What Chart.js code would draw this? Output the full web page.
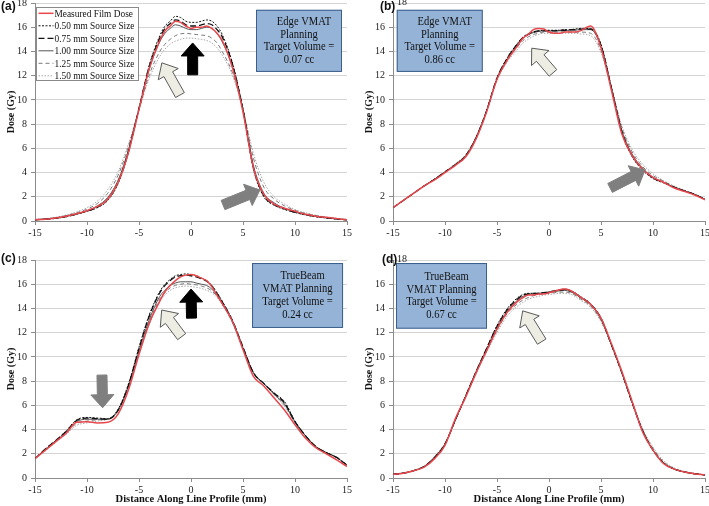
<!DOCTYPE html>
<html>
<head>
<meta charset="utf-8">
<script src="https://cdn.jsdelivr.net/npm/chart.js@4.4.1/dist/chart.umd.min.js"></script>
<style>
  html, body { margin: 0; padding: 0; background: #fff; }
  #wrap { position: relative; width: 709px; height: 506px; overflow: hidden; }
  canvas { position: absolute; }
  .tag { position: absolute; font: bold 12px "Liberation Sans", Arial, sans-serif; color: #111; }
</style>
</head>
<body>
<div id="wrap">
  <canvas id="cA" width="355" height="250" style="left:0;top:0"></canvas>
  <canvas id="cB" width="354" height="250" style="left:355px;top:0"></canvas>
  <canvas id="cC" width="355" height="256" style="left:0;top:250px"></canvas>
  <canvas id="cD" width="354" height="256" style="left:355px;top:250px"></canvas>
  <div class="tag" style="left:1px;top:-1px">(a)</div>
  <div class="tag" style="left:380px;top:-1px">(b)</div>
  <div class="tag" style="left:1px;top:251px">(c)</div>
  <div class="tag" style="left:382px;top:252px">(d)</div>
</div>
<script>
// distance along line profile (mm), shared by all panels
const X = [-15,-14,-13,-12,-11,-10,-9,-8,-7,-6,-5,-4,-3,-2.5,-2,-1.5,-1,-0.5,0,0.5,1,1.5,2,2.5,3,4,5,6,7,8,9,10,11,12,13,14,15];

const seriesNames = ["Measured Film Dose","0.50 mm Source Size","0.75 mm Source Size",
                     "1.00 mm Source Size","1.25 mm Source Size","1.50 mm Source Size"];

// (a) Edge VMAT, 0.07 cc
const measA = [0.1,0.15,0.25,0.4,0.6,0.85,1.2,1.8,3.2,5.7,9.2,12.6, 14.9,15.7,16.1,16.5,16.4,16.1,15.9,16.0,16.0,16.1,15.9,15.5,14.9, 12.6,9.0,4.4,2.2,1.4,1.05,0.8,0.55,0.4,0.3,0.2,0.1];
const s050A = [0.1,0.15,0.22,0.35,0.55,0.8,1.1,1.7,3.1,5.7,9.3,12.9, 15.3,16.1,16.5,16.9,16.8,16.5,16.4,16.4,16.5,16.6,16.5,16.1,15.4, 13.0,9.2,4.3,2.0,1.3,0.95,0.7,0.5,0.35,0.25,0.15,0.1];
const s075A = [0.1,0.15,0.23,0.37,0.57,0.82,1.15,1.8,3.2,5.8,9.3,12.8, 15.1,15.9,16.3,16.6,16.5,16.2,16.1,16.1,16.2,16.3,16.2,15.8,15.2, 12.9,9.2,4.4,2.1,1.35,1.0,0.72,0.52,0.37,0.27,0.17,0.1];
const s100A = [0.1,0.16,0.25,0.4,0.6,0.85,1.25,1.95,3.4,5.9,9.3,12.6, 14.8,15.5,15.9,16.2,16.1,15.9,15.8,15.8,15.9,16.0,15.9,15.5,14.8, 12.7,9.2,4.6,2.3,1.5,1.05,0.75,0.55,0.4,0.28,0.18,0.1];
const s125A = [0.12,0.18,0.28,0.45,0.68,0.98,1.45,2.3,3.8,6.2,9.2,12.1, 14.0,14.6,15.0,15.3,15.45,15.5,15.45,15.4,15.35,15.3,15.1,14.7,14.0, 12.2,9.2,5.2,2.8,1.8,1.25,0.88,0.62,0.45,0.3,0.2,0.12];
const s150A = [0.13,0.2,0.3,0.5,0.75,1.1,1.65,2.6,4.1,6.4,9.2,11.8, 13.6,14.2,14.6,14.85,15.0,15.1,15.1,15.05,15.0,14.9,14.7,14.3,13.7, 12.0,9.2,5.6,3.2,2.0,1.4,0.95,0.68,0.48,0.32,0.22,0.13];

// (b) Edge VMAT, 0.86 cc
const measB = [1.1,1.7,2.3,2.9,3.4,4.0,4.6,5.3,6.8,9.0,11.7,13.3, 14.5,15.1,15.4,15.8,15.9,15.85,15.6,15.5,15.5,15.6,15.6,15.6,15.7, 16.1,14.3,10.8,7.2,5.4,4.3,3.6,3.2,2.75,2.45,2.15,1.75];
const s050B = [1.1,1.7,2.3,2.9,3.45,4.05,4.65,5.4,6.9,9.1,11.8,13.5, 14.7,15.2,15.45,15.6,15.7,15.75,15.75,15.75,15.75,15.8,15.8,15.85,15.9, 15.9,14.6,11.0,7.3,5.3,4.2,3.5,3.15,2.8,2.5,2.2,1.8];
const s075B = [1.1,1.7,2.3,2.9,3.45,4.05,4.65,5.4,6.9,9.1,11.8,13.45, 14.65,15.15,15.4,15.6,15.7,15.7,15.7,15.7,15.75,15.75,15.8,15.8,15.85, 15.85,14.5,11.0,7.4,5.4,4.3,3.55,3.2,2.8,2.5,2.2,1.8];
const s100B = [1.1,1.7,2.3,2.9,3.45,4.05,4.65,5.4,6.9,9.1,11.75,13.4, 14.6,15.1,15.4,15.55,15.65,15.7,15.7,15.7,15.7,15.7,15.75,15.75,15.8, 15.8,14.4,11.0,7.5,5.5,4.35,3.6,3.2,2.8,2.5,2.2,1.8];
const s125B = [1.1,1.7,2.3,2.9,3.45,4.05,4.7,5.45,6.95,9.1,11.7,13.3, 14.4,14.9,15.2,15.4,15.5,15.6,15.6,15.6,15.6,15.6,15.6,15.6,15.6, 15.5,14.1,11.0,7.7,5.7,4.5,3.75,3.3,2.85,2.5,2.2,1.8];
const s150B = [1.1,1.7,2.3,2.9,3.45,4.1,4.75,5.5,7.0,9.1,11.6,13.15, 14.2,14.7,15.0,15.25,15.4,15.5,15.5,15.5,15.5,15.5,15.5,15.5,15.45, 15.3,13.9,11.0,7.9,5.9,4.7,3.9,3.35,2.9,2.55,2.2,1.8];

// (c) TrueBeam VMAT, 0.24 cc
const measC = [1.6,2.3,3.0,3.7,4.6,4.65,4.55,4.6,5.3,7.3,10.2,12.8, 14.6,15.4,15.9,16.3,16.6,16.75,16.8,16.7,16.5,16.3,15.8,15.1,14.4, 12.9,10.6,8.4,7.6,6.6,5.6,4.4,3.3,2.5,2.0,1.5,0.95];
const s050C = [1.6,2.4,3.1,3.9,4.8,5.0,4.95,4.9,5.7,7.8,10.8,13.5, 15.4,16.0,16.4,16.7,16.8,16.85,16.8,16.7,16.5,16.3,15.9,15.3,14.6, 13.0,10.8,8.7,7.8,7.0,6.3,4.7,3.5,2.6,2.1,1.7,1.1];
const s075C = [1.6,2.4,3.1,3.85,4.75,4.95,4.9,4.85,5.6,7.7,10.7,13.4, 15.3,15.9,16.3,16.6,16.7,16.75,16.7,16.6,16.45,16.25,15.85,15.25,14.55, 12.95,10.8,8.7,7.8,7.0,6.2,4.65,3.5,2.6,2.1,1.7,1.05];
const s100C = [1.6,2.35,3.05,3.8,4.65,4.85,4.85,4.85,5.6,7.6,10.5,13.1, 15.0,15.5,15.9,16.1,16.2,16.2,16.2,16.1,16.0,15.9,15.6,15.1,14.5, 12.9,10.7,8.7,7.8,6.9,6.1,4.6,3.5,2.6,2.1,1.7,1.05];
const s125C = [1.6,2.3,3.0,3.7,4.5,4.7,4.8,4.85,5.6,7.6,10.4,12.9, 14.8,15.3,15.7,15.9,16.0,16.05,16.0,15.95,15.85,15.7,15.45,15.0,14.4, 12.8,10.7,8.7,7.8,6.9,6.0,4.6,3.5,2.6,2.1,1.7,1.05];
const s150C = [1.6,2.25,2.95,3.6,4.35,4.55,4.7,4.85,5.6,7.6,10.3,12.7, 14.6,15.1,15.5,15.7,15.8,15.85,15.8,15.75,15.65,15.5,15.3,14.9,14.3, 12.8,10.7,8.7,7.8,6.9,5.9,4.6,3.5,2.6,2.1,1.7,1.05];

// (d) TrueBeam VMAT, 0.67 cc
const measD = [0.3,0.4,0.6,0.9,1.6,2.7,4.9,6.7,8.7,10.5,12.3,13.7, 14.6,14.9,15.1,15.1,15.2,15.2,15.3,15.4,15.55,15.6,15.5,15.25,14.95, 14.35,13.2,11.1,8.8,6.3,3.8,2.3,1.2,0.75,0.5,0.35,0.25];
const s050D = [0.3,0.4,0.6,0.95,1.7,2.8,4.8,6.8,8.8,10.7,12.6,14.0, 14.9,15.15,15.25,15.25,15.25,15.3,15.35,15.45,15.55,15.6,15.5,15.3,15.0, 14.4,13.2,11.0,8.7,6.2,3.9,2.3,1.25,0.75,0.5,0.35,0.25];
const s075D = [0.3,0.4,0.6,0.95,1.7,2.8,4.8,6.8,8.8,10.7,12.5,13.9, 14.8,15.1,15.2,15.25,15.25,15.3,15.35,15.45,15.5,15.55,15.45,15.25,14.95, 14.35,13.2,11.0,8.7,6.2,3.9,2.3,1.25,0.75,0.5,0.35,0.25];
const s100D = [0.3,0.4,0.6,0.95,1.7,2.8,4.8,6.8,8.8,10.6,12.4,13.8, 14.7,15.0,15.15,15.2,15.25,15.3,15.35,15.4,15.45,15.5,15.4,15.2,14.9, 14.3,13.1,11.0,8.7,6.2,3.9,2.3,1.25,0.75,0.5,0.35,0.25];
const s125D = [0.32,0.42,0.62,0.98,1.75,2.85,4.8,6.75,8.7,10.5,12.2,13.6, 14.4,14.7,14.9,15.05,15.15,15.2,15.25,15.3,15.35,15.35,15.3,15.1,14.8, 14.2,13.0,11.0,8.8,6.3,4.0,2.45,1.35,0.8,0.52,0.36,0.26];
const s150D = [0.33,0.44,0.65,1.0,1.8,2.9,4.8,6.7,8.6,10.4,12.0,13.4, 14.2,14.5,14.75,14.9,15.0,15.1,15.15,15.2,15.25,15.25,15.2,15.0,14.7, 14.1,12.9,11.0,8.9,6.4,4.1,2.55,1.45,0.85,0.55,0.38,0.27];

// line styles, one per series
const lineColors = ['#e8474c', '#111', '#111', '#555', '#7a7a7a', '#a8a8a8'];
const lineDashes = [[], [2, 1.5], [6, 3], [], [4, 3], [1.5, 1.5]];
const lineWidths = [1.5, 1, 1.3, 1, 1, 1];

Chart.defaults.font.family = '"Liberation Serif", "Times New Roman", serif';
Chart.defaults.color = '#222';

function drawArrow(ctx, x0, y0, x1, y1, kind) {
  const dx = x1 - x0, dy = y1 - y0;
  const len = Math.hypot(dx, dy);
  const ux = dx / len, uy = dy / len, nx = -uy, ny = ux;
  const w1 = 5, w2 = 11.5, hl = 13;
  const bx = x1 - ux * hl, by = y1 - uy * hl;
  ctx.beginPath();
  ctx.moveTo(x0 + nx * w1, y0 + ny * w1);
  ctx.lineTo(bx + nx * w1, by + ny * w1);
  ctx.lineTo(bx + nx * w2, by + ny * w2);
  ctx.lineTo(x1, y1);
  ctx.lineTo(bx - nx * w2, by - ny * w2);
  ctx.lineTo(bx - nx * w1, by - ny * w1);
  ctx.lineTo(x0 - nx * w1, y0 - ny * w1);
  ctx.closePath();
  if (kind === 'light') { ctx.fillStyle = '#eeede3'; ctx.strokeStyle = '#5a5a5a'; }
  else if (kind === 'dark') { ctx.fillStyle = '#000'; ctx.strokeStyle = '#000'; }
  else { ctx.fillStyle = '#7f7f7f'; ctx.strokeStyle = '#7f7f7f'; }
  ctx.lineWidth = 1;
  ctx.fill();
  ctx.stroke();
}

const deco = {
  id: 'deco',
  afterDatasetsDraw(chart, args, o) {
    const { ctx, chartArea: ca } = chart;
    const sx = chart.scales.x, sy = chart.scales.y;
    ctx.save();
    (o.arrows || []).forEach(a => drawArrow(ctx,
      sx.getPixelForValue(a.from[0]), sy.getPixelForValue(a.from[1]),
      sx.getPixelForValue(a.to[0]), sy.getPixelForValue(a.to[1]), a.kind));

    if (o.box) {
      const b = o.box;
      const l = sx.getPixelForValue(b.x0), r = sx.getPixelForValue(b.x1);
      const t = sy.getPixelForValue(b.y0), btm = sy.getPixelForValue(b.y1);
      ctx.fillStyle = '#95b3d7';
      ctx.strokeStyle = '#3b5f8c';
      ctx.lineWidth = 1;
      ctx.fillRect(l, t, r - l, btm - t);
      ctx.strokeRect(l + 0.5, t + 0.5, r - l - 1, btm - t - 1);
      ctx.fillStyle = '#111';
      ctx.font = '12px "Liberation Serif", serif';
      ctx.textAlign = 'center';
      ctx.textBaseline = 'middle';
      const cx = (l + r) / 2, cy = (t + btm) / 2, lh = 12.8;
      b.lines.forEach((s, i) => {
        const yy = cy + (i - (b.lines.length - 1) / 2) * lh;
        ctx.save();
        ctx.translate(cx + (i === 0 ? 5 : 0), yy);
        ctx.scale(0.88, 1);
        ctx.fillText(s, 0, 0);
        ctx.restore();
      });
    }

    if (o.legend) {
      const lx = ca.left + 1.5, ly = ca.top + 4.5, lw = 102, lhgt = 73;
      ctx.fillStyle = '#fff';
      ctx.fillRect(lx, ly, lw, lhgt);
      ctx.strokeStyle = '#8a8a8a';
      ctx.lineWidth = 1;
      ctx.strokeRect(lx, ly, lw, lhgt);
      chart.data.datasets.forEach((ds, i) => {
        const yy = ly + 5.8 + i * 12.5;
        ctx.beginPath();
        ctx.setLineDash(ds.borderDash || []);
        ctx.strokeStyle = ds.borderColor;
        ctx.lineWidth = ds.borderWidth;
        ctx.moveTo(lx + 2, yy);
        ctx.lineTo(lx + 17, yy);
        ctx.stroke();
        ctx.setLineDash([]);
        ctx.save();
        ctx.translate(lx + 18, yy);
        ctx.scale(0.85, 1);
        ctx.fillStyle = '#111';
        ctx.font = '11px "Liberation Serif", serif';
        ctx.textAlign = 'left';
        ctx.textBaseline = 'middle';
        ctx.fillText(ds.label, 0, 0.5);
        ctx.restore();
      });
    }

    // top tick label pushed right of the axis where the panel tag sits
    if (o.shiftTop) {
      ctx.fillStyle = '#222';
      ctx.font = '10px "Liberation Serif", serif';
      ctx.textAlign = 'left';
      ctx.textBaseline = 'middle';
      ctx.fillText(String(sy.max), ca.left + 4, ca.top - 1);
    }
    ctx.restore();
  }
};
Chart.register(deco);

function makePanel(id, series, cfg) {
  const datasets = series.map((ys, i) => ({
    label: seriesNames[i],
    data: X.map((x, j) => ({ x: x, y: ys[j] })),
    borderColor: lineColors[i],
    borderDash: lineDashes[i],
    borderWidth: lineWidths[i],
    pointRadius: 0,
    fill: false,
    cubicInterpolationMode: 'monotone'
  }));

  new Chart(document.getElementById(id), {
    type: 'line',
    data: { datasets: datasets },
    options: {
      responsive: false,
      animation: false,
      layout: { padding: { left: cfg.padL, right: cfg.padR, top: cfg.padT, bottom: 0 } },
      plugins: {
        legend: { display: false },
        tooltip: { enabled: false },
        deco: { box: cfg.box, arrows: cfg.arrows, legend: cfg.legend, shiftTop: cfg.shiftTop }
      },
      scales: {
        x: {
          type: 'linear', min: -15, max: 15,
          ticks: { stepSize: 5, font: { size: 10 }, color: '#222', padding: 2, maxRotation: 0 },
          grid: { drawOnChartArea: false, tickLength: 4, color: '#8c8c8c' },
          border: { color: '#8c8c8c' },
          title: { display: cfg.xTitle, text: 'Distance Along Line Profile (mm)',
                   font: { size: 10.5, weight: 'bold' }, color: '#111', padding: 0 },
          afterFit(s) { s.height = cfg.xH; s.paddingLeft = 0; s.paddingRight = 0; }
        },
        y: {
          min: 0, max: 18,
          ticks: { stepSize: 2, font: { size: 10 }, color: '#222', padding: 4,
                   callback: v => (cfg.shiftTop && v === 18) ? '' : v },
          grid: { color: '#d4d4d4', tickLength: 4, tickColor: '#8c8c8c' },
          border: { color: '#8c8c8c' },
          title: { display: true, text: 'Dose (Gy)', font: { size: 10, weight: 'bold' }, color: '#111', padding: 0 },
          afterFit(s) { s.width = 30; s.paddingTop = 0; s.paddingBottom = 0; }
        }
      }
    }
  });
}

makePanel('cA', [measA, s050A, s075A, s100A, s125A, s150A], {
  padL: 5, padR: 8, padT: 3, xH: 29, xTitle: false, legend: true, shiftTop: false,
  box: { x0: 6.25, x1: 14.52, y0: 17.44, y1: 12.31, lines: ['Edge VMAT', 'Planning', 'Target Volume =', '0.07 cc'] },
  arrows: [
    { from: [-1.06, 10.4], to: [-2.8, 13.06], kind: 'light' },
    { from: [0.16, 12.07], to: [0.16, 14.7], kind: 'dark' },
    { from: [3.08, 1.32], to: [6.63, 2.56], kind: 'gray' }
  ]
});

makePanel('cB', [measB, s050B, s075B, s100B, s125B, s150B], {
  padL: 8, padR: 4, padT: 3, xH: 29, xTitle: false, legend: false, shiftTop: true,
  box: { x0: -14.64, x1: -6.37, y0: 17.44, y1: 12.31, lines: ['Edge VMAT', 'Planning', 'Target Volume =', '0.86 cc'] },
  arrows: [
    { from: [0.38, 12.23], to: [-1.66, 14.27], kind: 'light' },
    { from: [5.87, 2.73], to: [9.23, 4.21], kind: 'gray' }
  ]
});

makePanel('cC', [measC, s050C, s075C, s100C, s125C, s150C], {
  padL: 5, padR: 8, padT: 10, xH: 28, xTitle: true, legend: false, shiftTop: false,
  box: { x0: 5.87, x1: 14.62, y0: 17.75, y1: 12.39, lines: ['TrueBeam', 'VMAT Planning', 'Target Volume =', '0.24 cc'] },
  arrows: [
    { from: [-8.56, 8.5], to: [-8.5, 5.8], kind: 'gray' },
    { from: [0.05, 13.2], to: [0.0, 15.6], kind: 'dark' },
    { from: [-0.9, 11.67], to: [-2.82, 13.87], kind: 'light' }
  ]
});

makePanel('cD', [measD, s050D, s075D, s100D, s125D, s150D], {
  padL: 8, padR: 4, padT: 10, xH: 28, xTitle: true, legend: false, shiftTop: true,
  box: { x0: -14.71, x1: -5.96, y0: 17.75, y1: 12.33, lines: ['TrueBeam', 'VMAT Planning', 'Target Volume =', '0.67 cc'] },
  arrows: [
    { from: [-0.7, 11.26], to: [-2.53, 13.8], kind: 'light' }
  ]
});
</script>
</body>
</html>
